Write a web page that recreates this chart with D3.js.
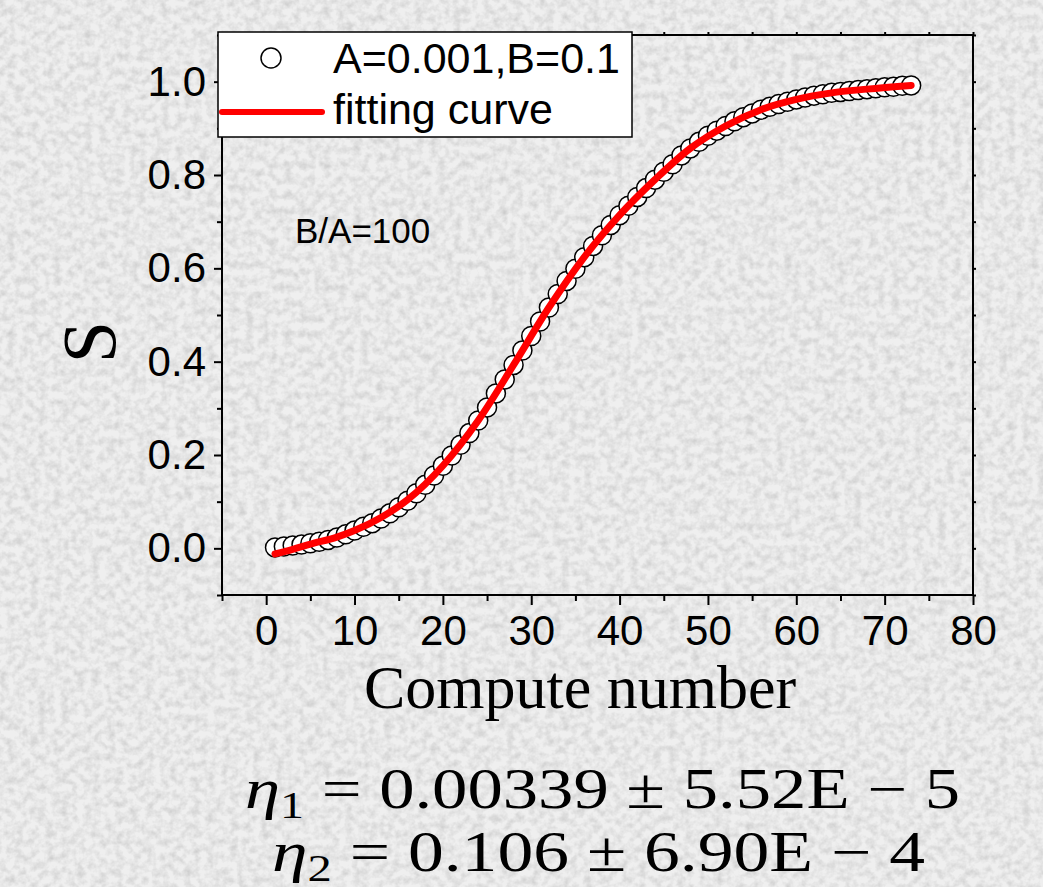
<!DOCTYPE html>
<html>
<head>
<meta charset="utf-8">
<script src="https://cdn.jsdelivr.net/npm/d3@7"></script>
<style>
  html, body { margin: 0; padding: 0; background: #e6e6e6; }
  svg { display: block; }
</style>
</head>
<body>
<svg id="chart" width="1043" height="887"></svg>
<script>
// Compute number (x) and measured S for the A=0.001, B=0.1 run
const computeNumber = [1,2,3,4,5,6,7,8,9,10,11,12,13,14,15,16,17,18,19,20,21,22,23,24,25,26,27,28,29,30,31,32,33,34,35,36,37,38,39,40,41,42,43,44,45,46,47,48,49,50,51,52,53,54,55,56,57,58,59,60,61,62,63,64,65,66,67,68,69,70,71,72,73];
const sValues = [0.002,0.004,0.006,0.008,0.011,0.014,0.018,0.023,0.030,0.038,0.046,0.054,0.064,0.075,0.088,0.102,0.118,0.136,0.156,0.177,0.199,0.222,0.247,0.274,0.302,0.332,0.362,0.393,0.424,0.455,0.486,0.516,0.545,0.573,0.599,0.624,0.648,0.671,0.693,0.714,0.734,0.753,0.772,0.790,0.807,0.823,0.842,0.857,0.871,0.884,0.895,0.905,0.915,0.924,0.932,0.940,0.946,0.952,0.957,0.962,0.966,0.970,0.973,0.976,0.978,0.980,0.982,0.984,0.986,0.988,0.989,0.991,0.992];

// Fitted curve, sampled along the compute number
const fitN = [1,3,5,8,10,13,16,20,24,28,32,36,40,44,48,52,56,60,64,68,73];
const fitS = [-0.012,-0.002,0.009,0.024,0.038,0.066,0.104,0.177,0.274,0.393,0.516,0.624,0.714,0.790,0.857,0.905,0.940,0.962,0.976,0.984,0.992];

// Axis ticks
const xMajorTicks = [0,10,20,30,40,50,60,70,80];
const xMinorTicks = [-5,5,15,25,35,45,55,65,75];
const yMajorTicks = [0.0,0.2,0.4,0.6,0.8,1.0];
const yMinorTicks = [-0.1,0.1,0.3,0.5,0.7,0.9,1.1];

// Text
const legendLabels = ["A=0.001,B=0.1", "fitting curve"];
const ratioNote = "B/A=100";
const xTitle = "Compute number";
const yTitle = "S";
const etaLines = [
  {sym: "η", sub: "1", rest: " = 0.00339 ± 5.52E − 5"},
  {sym: "η", sub: "2", rest: " = 0.106 ± 6.90E − 4"}
];

const svg = d3.select("#chart");
const W = 1043, H = 887;
const plot = {left: 222, right: 973, top: 35, bottom: 595};

// Grainy paper background
const defs = svg.append("defs");
const grain = defs.append("filter").attr("id", "grain")
  .attr("x", 0).attr("y", 0).attr("width", "100%").attr("height", "100%");
grain.append("feTurbulence").attr("type", "fractalNoise")
  .attr("baseFrequency", 0.13).attr("numOctaves", 3).attr("seed", 11).attr("result", "noise");
grain.append("feColorMatrix").attr("in", "noise").attr("type", "matrix")
  .attr("values", "0 0 0 0 0.5  0 0 0 0 0.5  0 0 0 0 0.5  1.1 0 0 0 -0.40");
svg.append("rect").attr("width", W).attr("height", H).attr("fill", "#efefef");
svg.append("rect").attr("width", W).attr("height", H).attr("filter", "url(#grain)");

const x = d3.scaleLinear().domain([-5, 80]).range([plot.left, plot.right]);
const y = d3.scaleLinear().domain([-0.1, 1.1]).range([plot.bottom, plot.top]);

const sansFont = "'Liberation Sans', Arial, sans-serif";
const serifFont = "'Liberation Serif', 'Times New Roman', serif";

function styleAxis(g, fontSize) {
  g.select(".domain").remove();
  g.selectAll(".tick line").attr("stroke", "#000").attr("stroke-width", 2);
  g.selectAll(".tick text").attr("fill", "#000")
    .attr("font-family", sansFont).attr("font-size", fontSize);
}

// Bottom axis: major with labels, minor without
svg.append("g").attr("transform", `translate(0,${plot.bottom})`)
  .call(d3.axisBottom(x).tickValues(xMajorTicks).tickSize(10).tickPadding(10).tickFormat(d3.format("d")))
  .call(g => styleAxis(g, 42));
svg.append("g").attr("transform", `translate(0,${plot.bottom})`)
  .call(d3.axisBottom(x).tickValues(xMinorTicks).tickSize(6).tickFormat(""))
  .call(g => styleAxis(g, 42));

// Left axis
svg.append("g").attr("transform", `translate(${plot.left},0)`)
  .call(d3.axisLeft(y).tickValues(yMajorTicks).tickSize(8).tickPadding(8).tickFormat(d3.format(".1f")))
  .call(g => styleAxis(g, 42));
svg.append("g").attr("transform", `translate(${plot.left},0)`)
  .call(d3.axisLeft(y).tickValues(yMinorTicks).tickSize(5).tickFormat(""))
  .call(g => styleAxis(g, 42));

// Top and right axes carry small ticks only
svg.append("g").attr("transform", `translate(0,${plot.top})`)
  .call(d3.axisTop(x).tickValues(xMajorTicks.concat(xMinorTicks)).tickSize(3).tickFormat(""))
  .call(g => styleAxis(g, 42));
svg.append("g").attr("transform", `translate(${plot.right},0)`)
  .call(d3.axisRight(y).tickValues(yMajorTicks.concat(yMinorTicks)).tickSize(3).tickFormat(""))
  .call(g => styleAxis(g, 42));

// Frame
svg.append("rect")
  .attr("x", plot.left).attr("y", plot.top)
  .attr("width", plot.right - plot.left).attr("height", plot.bottom - plot.top)
  .attr("fill", "none").attr("stroke", "#000").attr("stroke-width", 2);

// Measured points
const points = computeNumber.map((n, i) => ({n, s: sValues[i]}));
svg.append("g").selectAll("circle").data(points).join("circle")
  .attr("cx", d => x(d.n)).attr("cy", d => y(d.s)).attr("r", 9.5)
  .attr("fill", "#fff").attr("stroke", "#000").attr("stroke-width", 1.5);

// Fitted curve
const fit = fitN.map((n, i) => ({n, s: fitS[i]}));
svg.append("path").datum(fit)
  .attr("d", d3.line().x(d => x(d.n)).y(d => y(d.s)).curve(d3.curveMonotoneX))
  .attr("fill", "none").attr("stroke", "#ff0000").attr("stroke-width", 7)
  .attr("stroke-linecap", "round").attr("stroke-linejoin", "round");

// Legend
const legend = svg.append("g");
legend.append("rect").attr("x", 218).attr("y", 32).attr("width", 414).attr("height", 105)
  .attr("fill", "#fff").attr("stroke", "#000").attr("stroke-width", 1.5);
legend.append("circle").attr("cx", 271).attr("cy", 58).attr("r", 10)
  .attr("fill", "#fff").attr("stroke", "#000").attr("stroke-width", 1.5);
legend.append("line").attr("x1", 222).attr("x2", 322).attr("y1", 112).attr("y2", 112)
  .attr("stroke", "#ff0000").attr("stroke-width", 6).attr("stroke-linecap", "round");
legend.selectAll("text").data(legendLabels).join("text")
  .attr("x", 333).attr("y", (d, i) => i === 0 ? 73 : 124)
  .attr("font-family", sansFont).attr("font-size", 43).attr("fill", "#000")
  .text(d => d);

// Ratio note
svg.append("text").attr("x", 295).attr("y", 243)
  .attr("font-family", sansFont).attr("font-size", 35).attr("fill", "#000")
  .text(ratioNote);

// Axis titles
svg.append("text").attr("x", 580).attr("y", 708).attr("text-anchor", "middle")
  .attr("font-family", serifFont).attr("font-size", 62).attr("fill", "#000")
  .text(xTitle);
svg.append("text").attr("transform", "translate(115,342) rotate(-90)")
  .attr("text-anchor", "middle")
  .attr("font-family", serifFont).attr("font-size", 76).attr("fill", "#000")
  .text(yTitle);

// Fit parameters
const etaPos = [{x: 245, y: 808, len: 715}, {x: 272, y: 871, len: 653}];
etaLines.forEach((ln, i) => {
  const t = svg.append("text").attr("x", etaPos[i].x).attr("y", etaPos[i].y)
    .attr("font-family", serifFont).attr("font-size", 56).attr("fill", "#000")
    .attr("textLength", etaPos[i].len).attr("lengthAdjust", "spacingAndGlyphs");
  t.append("tspan").attr("font-style", "italic").text(ln.sym);
  t.append("tspan").attr("font-size", 38).attr("dy", 10).text(ln.sub);
  t.append("tspan").attr("dy", -10).text(ln.rest);
});
</script>
</body>
</html>
